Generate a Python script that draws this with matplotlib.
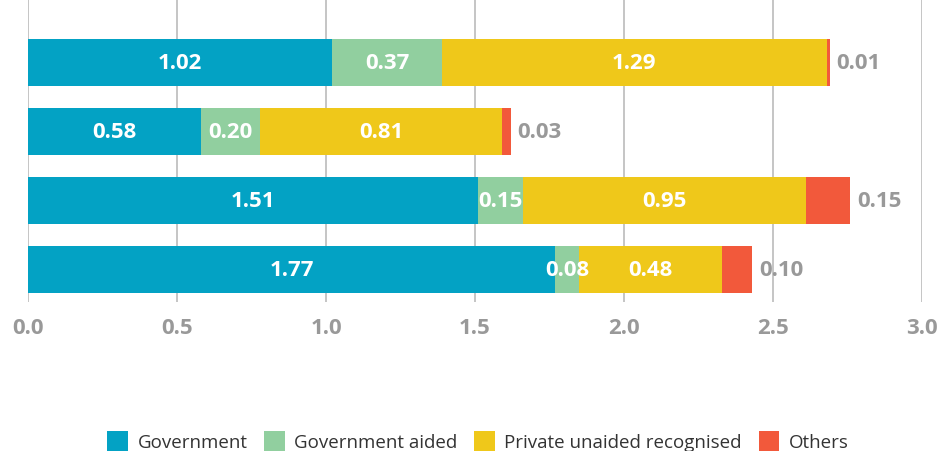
import matplotlib
matplotlib.use("Agg")
import matplotlib.pyplot as plt
from matplotlib.patches import Patch
import numpy as np

plt.rcParams['font.family'] = ['Open Sans', 'DejaVu Sans']

# 数据（从上到下四行）
categories = ['Government', 'Government aided', 'Private unaided recognised', 'Others']
government = [1.02, 0.58, 1.51, 1.77]
gov_aided = [0.37, 0.20, 0.15, 0.08]
private_unaided = [1.29, 0.81, 0.95, 0.48]
others = [0.01, 0.03, 0.15, 0.10]
colors = ['#03A2C4', '#91CF9F', '#EFC81A', '#F2593B']

series = [government, gov_aided, private_unaided, others]

fig = plt.figure(figsize=(9.41, 4.52), dpi=100)
ax = fig.add_axes([28 / 941, 1 - 303 / 452, 894 / 941, 303 / 452])

y = np.arange(len(government))
left = np.zeros(len(government))
for i, vals in enumerate(series):
    vals = np.array(vals)
    ax.barh(y, vals, left=left, height=0.68, color=colors[i], zorder=2)
    for j, v in enumerate(vals):
        if i < 3:
            ax.text(left[j] + v / 2, y[j], f"{v:.2f}", ha='center', va='center',
                    color='white', fontsize=16, fontweight='bold', zorder=3)
        else:
            ax.annotate(f"{v:.2f}", xy=(left[j] + v, y[j]), xytext=(5, 0),
                        textcoords='offset points', ha='left', va='center',
                        color='#999999', fontsize=16, fontweight='bold')
    left += vals

ax.set_xlim(0, 3.0)
ax.set_ylim(3.47, -0.92)
ax.set_xticks([0.0, 0.5, 1.0, 1.5, 2.0, 2.5, 3.0])
ax.set_xticklabels([f"{t:.1f}" for t in ax.get_xticks()])
ax.set_yticks([])
ax.tick_params(axis='x', length=0, pad=11, labelsize=16, labelcolor='#999999')
for lbl in ax.get_xticklabels():
    lbl.set_fontweight('bold')
ax.grid(axis='x', color='#BBBBBB', linewidth=1.2, zorder=0)
for s in ax.spines.values():
    s.set_visible(False)

handles = [Patch(facecolor=c, edgecolor='none') for c in colors]
fig.legend(handles, categories, loc='center', bbox_to_anchor=(0.508, 1 - 442 / 452),
           ncol=4, frameon=False, fontsize=13.5, labelcolor='#333333',
           handlelength=1.1, handleheight=1.3, handletextpad=0.5, columnspacing=0.9)

plt.savefig('out.png', dpi=100)
